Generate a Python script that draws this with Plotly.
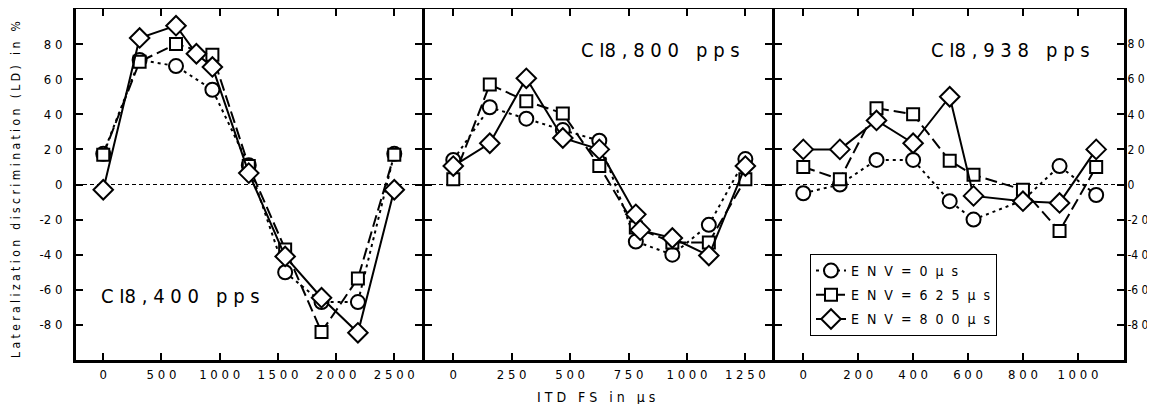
import plotly.graph_objects as go

# ---------------- data ----------------
ITD_400 = [0, 312.5, 625, 937.5, 1250, 1562.5, 1875, 2187.5, 2500]
ITD_400_D = [0, 312.5, 625, 800, 937.5, 1250, 1562.5, 1875, 2187.5, 2500]
LD_400_ENV0 = [17.5, 71, 67.5, 54, 11, -50, -67, -67, 17.5]
LD_400_ENV625 = [17, 70, 80, 74, 10.5, -37, -84, -53.5, 17]
LD_400_ENV800 = [-3, 83.5, 90.5, 74.5, 67, 6.5, -41, -64.5, -84.5, -3]

ITD_800 = [0, 156.25, 312.5, 468.75, 625, 781.25, 937.5, 1093.75, 1250]
ITD_800_D = [0, 156.25, 312.5, 468.75, 625, 781.25, 800, 937.5, 1093.75, 1250]
LD_800_ENV0 = [14, 44, 37.5, 31, 25, -32.5, -40, -23, 14.5]
LD_800_ENV625 = [3, 57, 47.5, 40.5, 10.5, -24.5, -33, -33, 3]
LD_800_ENV800 = [10.5, 23.5, 60.5, 26.5, 20, -17, -26, -30.5, -40.5, 10.5]

ITD_938 = [0, 133.3, 266.7, 400, 533.3, 620, 800, 933.3, 1066.7]
LD_938_ENV0 = [-5, 0, 14, 14, -9.5, -20, -9, 10.5, -6]
LD_938_ENV625 = [10, 3, 43.5, 40, 13.5, 5.5, -3, -26.5, 10]
LD_938_ENV800 = [20, 20, 36.5, 23.5, 50, -6.5, -9.5, -10.5, 20]

SP = "\u00a0 "
SERIES_NAMES = [SP.join("ENV=0µs"), SP.join("ENV=625µs"), SP.join("ENV=800µs")]
PANEL_LABELS = ["C I8 , 4 0 0 \u00a0 p p s", "C I8 , 8 0 0 \u00a0 p p s", "C I8 , 9 3 8 \u00a0 p p s"]

Y_TICKS = [80, 60, 40, 20, 0, -20, -40, -60, -80]
Y_TICKTEXT = ["8 0", "6 0", "4 0", "2 0", "0", "-2 0", "-4 0", "-6 0", "-8 0"]
X1_TICKS = [0, 500, 1000, 1500, 2000, 2500]
X1_TICKTEXT = ["0", "5 0 0", "1 0 0 0", "1 5 0 0", "2 0 0 0", "2 5 0 0"]
X2_TICKS = [0, 250, 500, 750, 1000, 1250]
X2_TICKTEXT = ["0", "2 5 0", "5 0 0", "7 5 0", "1 0 0 0", "1 2 5 0"]
X3_TICKS = [0, 200, 400, 600, 800, 1000]
X3_TICKTEXT = ["0", "2 0 0", "4 0 0", "6 0 0", "8 0 0", "1 0 0 0"]

# ---------------- styling ----------------
FONT = "Liberation Sans Narrow, DejaVu Sans Condensed, Liberation Sans, Arial"
styles = [
    dict(symbol="circle", size=14, dash="3px,4px"),
    dict(symbol="square", size=12, dash="12px,5px"),
    dict(symbol="diamond", size=15, dash="solid"),
]

fig = go.Figure()

panels = [
    ("x", "y", [ITD_400, ITD_400, ITD_400_D], [LD_400_ENV0, LD_400_ENV625, LD_400_ENV800]),
    ("x2", "y2", [ITD_800, ITD_800, ITD_800_D], [LD_800_ENV0, LD_800_ENV625, LD_800_ENV800]),
    ("x3", "y3", [ITD_938, ITD_938, ITD_938], [LD_938_ENV0, LD_938_ENV625, LD_938_ENV800]),
]

for pi, (xa, ya, xs, ys) in enumerate(panels):
    for si in range(3):
        st = styles[si]
        fig.add_trace(go.Scatter(
            x=xs[si], y=ys[si], xaxis=xa, yaxis=ya,
            mode="lines+markers",
            name=SERIES_NAMES[si],
            legendgroup=f"g{si}",
            showlegend=(pi == 0),
            line=dict(color="black", width=2, dash=st["dash"]),
            marker=dict(symbol=st["symbol"], size=st["size"], color="white",
                        line=dict(color="black", width=2)),
        ))

# geometry (page body has an 8px margin: figure origin sits at window (8, 8))
OFF = 8
W, H = 1155 - OFF, 412 - 2 * OFF
PX0, PX1, PY0, PY1 = 76, 1124, 9, 360          # plot area in window pixels
L, R, T, B = PX0 - OFF, W - (PX1 - OFF), PY0 - OFF, H - (PY1 - OFF)
pw = PX1 - PX0
ph = PY1 - PY0


def px(xw):
    return (xw - PX0) / pw


def py(yw):
    return (PY1 - yw) / ph


d1 = [0, px(422)]
d2 = [px(425), px(772)]
d3 = [px(775), 1]

axis_common = dict(showline=True, linecolor="black", linewidth=3, mirror="ticks",
                   ticks="inside", ticklen=7, tickwidth=2, tickcolor="black",
                   showgrid=False, zeroline=False)
TF13 = dict(family=FONT, size=13, color="black")
TF12 = dict(family=FONT, size=12, color="black")

YR = [-100, 100]
fig.update_layout(
    width=W, height=H,
    margin=dict(l=L, r=R, t=T, b=B, autoexpand=False),
    paper_bgcolor="white", plot_bgcolor="white",
    font=dict(family=FONT, color="black"),
    xaxis=dict(domain=d1, range=[-234, 2738], anchor="y", tickvals=X1_TICKS, ticktext=X1_TICKTEXT,
               tickfont=TF13, **axis_common),
    xaxis2=dict(domain=d2, range=[-121, 1364], anchor="y2", tickvals=X2_TICKS, ticktext=X2_TICKTEXT,
                tickfont=TF13, **axis_common),
    xaxis3=dict(domain=d3, range=[-103, 1168], anchor="y3", tickvals=X3_TICKS, ticktext=X3_TICKTEXT,
                tickfont=TF13, **axis_common),
    yaxis=dict(domain=[0, 1], range=YR, anchor="x", tickvals=Y_TICKS, ticktext=Y_TICKTEXT,
               ticklabelstandoff=8, tickfont=TF13, **axis_common),
    yaxis2=dict(domain=[0, 1], range=YR, anchor="x2", tickvals=Y_TICKS, showticklabels=False, **axis_common),
    yaxis3=dict(domain=[0, 1], range=YR, anchor="x3", side="right", tickvals=Y_TICKS, ticktext=Y_TICKTEXT,
                ticklabelstandoff=-2, tickfont=TF12, **axis_common),
    legend=dict(x=px(810), y=py(254), xanchor="left", yanchor="top",
                bordercolor="black", borderwidth=1, bgcolor="white",
                font=dict(family=FONT, size=14, color="black"),
                tracegroupgap=3),
    showlegend=True,
)

# zero dashed lines
for xa, ya in [("x", "y"), ("x2", "y2"), ("x3", "y3")]:
    fig.add_shape(type="line", xref=f"{xa} domain", yref=ya, x0=0, x1=1, y0=0, y1=0,
                  line=dict(color="black", width=1, dash="4px,3px"), layer="below")

# panel labels
label_pos = [(180, 296), (660, 50), (1010, 50)]
for (lx, ly), txt in zip(label_pos, PANEL_LABELS):
    fig.add_annotation(x=px(lx), y=py(ly), xref="paper", yref="paper",
                       text=txt, showarrow=False, xanchor="center", yanchor="middle",
                       font=dict(family=FONT, size=20, color="black"))

# axis titles
fig.add_annotation(x=px(596), y=py(397), xref="paper", yref="paper",
                   text="I T D \u00a0 F S \u00a0 i n \u00a0 µ s", showarrow=False,
                   xanchor="center", yanchor="middle",
                   font=dict(family=FONT, size=14, color="black"))
fig.add_annotation(x=px(16), y=py(190), xref="paper", yref="paper",
                   text="L a t e r a l i z a t i o n \u00a0 d i s c r i m i n a t i o n \u00a0 ( L D ) \u00a0 i n \u00a0 %",
                   textangle=-90, showarrow=False, xanchor="center", yanchor="middle",
                   font=dict(family=FONT, size=12, color="black"))

fig.write_html("out.html")
